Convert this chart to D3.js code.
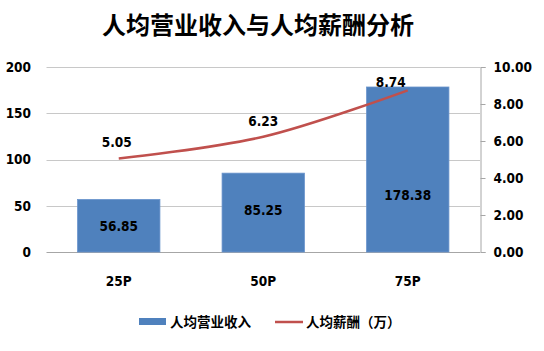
<!DOCTYPE html>
<html>
<head>
<meta charset="utf-8">
<script src="https://cdn.jsdelivr.net/npm/d3@7"></script>
<style>
  body { margin: 0; background: #fff; }
  svg { display: block; }
  text { fill: #000; }
  .tick-label { font-family: "DejaVu Sans Condensed", "DejaVu Sans", sans-serif; font-stretch: condensed; font-weight: bold; font-size: 13.5px; }
  .cjk { font-family: "Noto Sans CJK SC", sans-serif; font-weight: bold; }
</style>
</head>
<body>
<svg id="chart" width="544" height="351"></svg>
<script>
var categories = ["25P", "50P", "75P"];
var revenue = [56.85, 85.25, 178.38];
var salary = [5.05, 6.23, 8.74];
var leftTicks = [0, 50, 100, 150, 200];
var rightTicks = [0, 2, 4, 6, 8, 10];
var title = "人均营业收入与人均薪酬分析";
var seriesNames = ["人均营业收入", "人均薪酬（万）"];

var blue = "#4F81BD";
var red = "#C0504D";

var plotLeft = 46.5, plotRight = 480, plotTop = 67, plotBottom = 252;

var svg = d3.select("#chart");

var xScale = d3.scaleBand()
	.domain(categories)
	.range([plotLeft, plotRight])
	.paddingInner(0.43)
	.paddingOuter(0.215);

var yLeft = d3.scaleLinear().domain([0, 200]).range([plotBottom, plotTop]);
var yRight = d3.scaleLinear().domain([0, 10]).range([plotBottom, plotTop]);

// title
svg.append("text")
	.attr("class", "cjk")
	.attr("x", 258)
	.attr("y", 34)
	.attr("text-anchor", "middle")
	.style("font-size", "24px")
	.text(title);

// gridlines
svg.append("g")
	.selectAll("line")
	.data(leftTicks)
	.enter().append("line")
	.attr("x1", plotLeft)
	.attr("x2", plotRight)
	.attr("y1", function(d){ return Math.round(yLeft(d)) + 0.5; })
	.attr("y2", function(d){ return Math.round(yLeft(d)) + 0.5; })
	.attr("stroke", function(d){ return d === 0 ? "#A6A6A6" : "#C8C8C8"; })
	.attr("stroke-width", 1);

// left tick labels
svg.append("g")
	.selectAll("text")
	.data(leftTicks)
	.enter().append("text")
	.attr("class", "tick-label")
	.attr("x", 31)
	.attr("y", function(d){ return yLeft(d); })
	.attr("dy", "0.36em")
	.attr("text-anchor", "end")
	.text(function(d){ return d; });

// right axis
var rightAxis = d3.axisRight(yRight)
	.tickValues(rightTicks)
	.tickSize(5)
	.tickFormat(d3.format(".2f"));

var ra = svg.append("g")
	.attr("transform", "translate(" + (Math.round(plotRight) + 0.5) + ",0)")
	.call(rightAxis);
ra.select(".domain").attr("stroke", "#A6A6A6");
ra.selectAll(".tick line").attr("stroke", "#A6A6A6");
ra.selectAll(".tick text")
	.attr("class", "tick-label")
	.attr("x", 13)
	.attr("fill", "#000");

// bars
svg.append("g")
	.selectAll("rect")
	.data(revenue)
	.enter().append("rect")
	.attr("x", function(d, i){ return xScale(categories[i]); })
	.attr("y", function(d){ return yLeft(d); })
	.attr("width", xScale.bandwidth())
	.attr("height", function(d){ return yLeft(0) - yLeft(d); })
	.attr("fill", blue)
	.attr("stroke", "#6A95CC")
	.attr("stroke-width", 0.8);

// bar labels (last one sits lower, clear of the line)
var barLabelShift = [0, -2, 26];
svg.append("g")
	.selectAll("text")
	.data(revenue)
	.enter().append("text")
	.attr("class", "tick-label")
	.attr("x", function(d, i){ return xScale(categories[i]) + xScale.bandwidth() / 2; })
	.attr("y", function(d, i){ return (yLeft(d) + yLeft(0)) / 2 + barLabelShift[i]; })
	.attr("dy", "0.36em")
	.attr("text-anchor", "middle")
	.text(function(d){ return d.toFixed(2); });

// salary line
var line = d3.line()
	.x(function(d, i){ return xScale(categories[i]) + xScale.bandwidth() / 2; })
	.y(function(d){ return yRight(d); })
	.curve(d3.curveCatmullRom.alpha(0.5));

svg.append("path")
	.datum(salary)
	.attr("d", line)
	.attr("fill", "none")
	.attr("stroke", red)
	.attr("stroke-width", 2.5);

// label offsets: the last label is nudged in, like the original
var lineLabelDx = [-2, 0, -17];
var lineLabelDy = [-16, -16, -8];
svg.append("g")
	.selectAll("text")
	.data(salary)
	.enter().append("text")
	.attr("class", "tick-label")
	.attr("x", function(d, i){ return xScale(categories[i]) + xScale.bandwidth() / 2 + lineLabelDx[i]; })
	.attr("y", function(d, i){ return yRight(d) + lineLabelDy[i]; })
	.attr("dy", "0.36em")
	.attr("text-anchor", "middle")
	.text(function(d){ return d.toFixed(2); });

// category labels
svg.append("g")
	.selectAll("text")
	.data(categories)
	.enter().append("text")
	.attr("class", "tick-label")
	.attr("x", function(d){ return xScale(d) + xScale.bandwidth() / 2; })
	.attr("y", 281)
	.attr("dy", "0.36em")
	.attr("text-anchor", "middle")
	.text(function(d){ return d; });

// legend
var legend = svg.append("g");
legend.append("rect")
	.attr("x", 139).attr("y", 318)
	.attr("width", 27).attr("height", 7)
	.attr("fill", blue);
legend.append("text")
	.attr("class", "cjk")
	.style("font-size", "13.5px")
	.attr("x", 170).attr("y", 322)
	.attr("dy", "0.36em")
	.text(seriesNames[0]);
legend.append("line")
	.attr("x1", 275).attr("x2", 303)
	.attr("y1", 322).attr("y2", 322)
	.attr("stroke", red)
	.attr("stroke-width", 2.5);
legend.append("text")
	.attr("class", "cjk")
	.style("font-size", "13.5px")
	.attr("x", 306).attr("y", 322)
	.attr("dy", "0.36em")
	.text(seriesNames[1]);
</script>
</body>
</html>
